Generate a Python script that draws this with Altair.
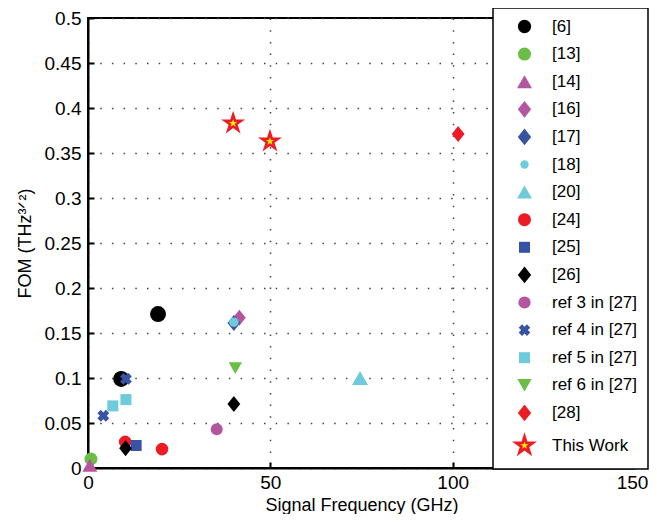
import altair as alt
import pandas as pd

# ---------------- data ----------------
refs = ["[6]", "[13]", "[14]", "[16]", "[17]", "[18]", "[20]", "[24]", "[25]", "[26]",
        "ref 3 in [27]", "ref 4 in [27]", "ref 5 in [27]", "ref 6 in [27]", "[28]", "This Work"]

series_x = [
    [9.1, 19.2],      # [6]
    [0.8],            # [13]
    [0.5],            # [14]
    [41.5],           # [16]
    [40.0],           # [17]
    [40.0],           # [18]
    [74.6],           # [20]
    [10.2, 20.3],     # [24]
    [13.2],           # [25]
    [10.3, 40.0],     # [26]
    [35.3],           # ref 3 in [27]
    [4.2, 10.4],      # ref 4 in [27]
    [6.8, 10.4],      # ref 5 in [27]
    [40.4],           # ref 6 in [27]
    [101.5],          # [28]
    [39.8, 49.9],     # This Work
]
series_y = [
    [0.099, 0.171],
    [0.010],
    [0.003],
    [0.167],
    [0.161],
    [0.162],
    [0.100],
    [0.029, 0.021],
    [0.025],
    [0.022, 0.071],
    [0.043],
    [0.058, 0.099],
    [0.069, 0.076],
    [0.111],
    [0.371],
    [0.383, 0.363],
]

x_ticks = [0, 50, 100, 150]
y_ticks = [0, 0.05, 0.1, 0.15, 0.2, 0.25, 0.3, 0.35, 0.4, 0.45, 0.5]

# ---------------- styles ----------------
BLACK, GREEN, MAGENTA, BLUE, CYAN, RED, YELLOW = (
    "#000000", "#6cbd45", "#b455a0", "#3953a4", "#6dcbdc", "#ed1c24", "#fff200")
DIAMOND = "M0,-1L0.8,0L0,1L-0.8,0Z"
XSHAPE = ("M-0.42,-0.99L0,-0.57L0.42,-0.99L0.99,-0.42L0.57,0L0.99,0.42L0.42,0.99"
          "L0,0.57L-0.42,0.99L-0.99,0.42L-0.57,0L-0.99,-0.42Z")
STAR = ("M0,-1L0.225,-0.309L0.951,-0.309L0.363,0.118L0.588,0.809L0,0.382"
        "L-0.588,0.809L-0.363,0.118L-0.951,-0.309L-0.225,-0.309Z")

fills = [BLACK, GREEN, MAGENTA, MAGENTA, BLUE, CYAN, CYAN, RED, BLUE, BLACK,
         MAGENTA, BLUE, CYAN, GREEN, RED, YELLOW]
strokes = fills[:-1] + [RED]
shapes = ["circle", "circle", "triangle-up", DIAMOND, DIAMOND, "circle", "triangle-up",
          "circle", "square", DIAMOND, "circle", XSHAPE, "square", "triangle-down",
          DIAMOND, STAR]
marker_sizes = [256, 170, 225, 256, 256, 90, 256, 160, 121, 256, 144, 144, 121, 180, 256, 282]
legend_sizes = [177, 170, 225, 279, 279, 70, 225, 170, 121, 279, 150, 137, 121, 205, 279, 300]

rows = []
for i, r in enumerate(refs):
    for xv, yv in zip(series_x[i], series_y[i]):
        rows.append({
            "ref": r, "x": xv, "y": yv, "order": i,
            "sz": marker_sizes[i],
            "sw": 2.6 if r == "This Work" else 0,
        })
df = pd.DataFrame(rows)

FONT = "Liberation Sans"
NBSP = "\u00a0"

refs_js = "[" + ",".join("'" + r + "'" for r in refs) + "]"
sizes_js = "[" + ",".join(str(s) for s in legend_sizes) + "]"

legend = alt.Legend(
    title=None,
    orient="none",
    legendX=405,
    legendY=-10,
    padding=10,
    symbolOffset=13,
    labelOffset=19,
    rowPadding=9.6,
    labelFont=FONT,
    labelFontSize=17,
    labelColor="black",
    labelExpr="datum.label + '" + NBSP * 5 + "'",
    labelLimit=400,
    strokeColor="black",
    fillColor="white",
    symbolOpacity=1,
    symbolSize=alt.ExprRef(expr=sizes_js + "[indexof(" + refs_js + ", datum.value)]"),
    symbolStrokeWidth=alt.ExprRef(expr="datum.value === 'This Work' ? 2.8 : 0"),
)

xscale = alt.Scale(domain=[0, 150], nice=False, zero=False)
yscale = alt.Scale(domain=[0, 0.5], nice=False, zero=False)

points = alt.Chart(df).mark_point(filled=True, opacity=1, strokeJoin="miter").encode(
    x=alt.X("x:Q", scale=xscale,
            axis=alt.Axis(values=x_ticks, title="Signal Frequency (GHz)", grid=True,
                          ticks=False, labelPadding=5, titlePadding=4, labelFlush=False,
                          labelOffset={"condition": {"test": "datum.value == 150", "value": -3},
                                       "value": 0})),
    y=alt.Y("y:Q", scale=yscale,
            axis=alt.Axis(values=y_ticks, format=".2~f", title="FOM (THz\u00b3\u141f\u00b2)",
                          grid=True, ticks=False, labelPadding=7, titlePadding=10,
                          labelFlush=False)),
    fill=alt.Fill("ref:N", scale=alt.Scale(domain=refs, range=fills), legend=legend,
                  sort=refs),
    stroke=alt.Stroke("ref:N", scale=alt.Scale(domain=refs, range=strokes), legend=legend,
                      sort=refs),
    shape=alt.Shape("ref:N", scale=alt.Scale(domain=refs, range=shapes), legend=legend,
                    sort=refs),
    size=alt.Size("sz:Q", scale=None),
    strokeWidth=alt.StrokeWidth("sw:Q", scale=None),
    order=alt.Order("order:Q"),
)

inward = alt.Chart(df).mark_point(opacity=0).encode(
    x=alt.X("x:Q", scale=xscale,
            axis=alt.Axis(orient="top", offset=-450, values=x_ticks, labels=False,
                          domain=False, grid=False, ticks=True, tickSize=6,
                          tickWidth=2, tickColor="black", title=None)),
    y=alt.Y("y:Q", scale=yscale,
            axis=alt.Axis(orient="right", offset=-547, values=y_ticks, labels=False,
                          domain=False, grid=False, ticks=True, tickSize=6,
                          tickWidth=2, tickColor="black", title=None)),
)

chart = alt.layer(points, inward).resolve_axis(x="independent", y="independent").properties(
    width=547,
    height=450,
    autosize=alt.AutoSizeParams(type="none"),
    padding={"left": 80, "top": 10, "right": 14, "bottom": 46},
).configure_view(
    stroke="black", strokeWidth=2
).configure_axis(
    labelFont=FONT, labelFontSize=19, labelColor="black",
    titleFont=FONT, titleFontSize=18, titleFontWeight="normal", titleColor="black",
    domainColor="black", domainWidth=2,
    gridColor="#444444", gridWidth=1.5, gridDash=[1.5, 10.2], gridOpacity=1,
).configure_legend(
    strokeWidth=1.5
)

chart.save("out.html", embed_options={"renderer": "svg", "actions": False})
